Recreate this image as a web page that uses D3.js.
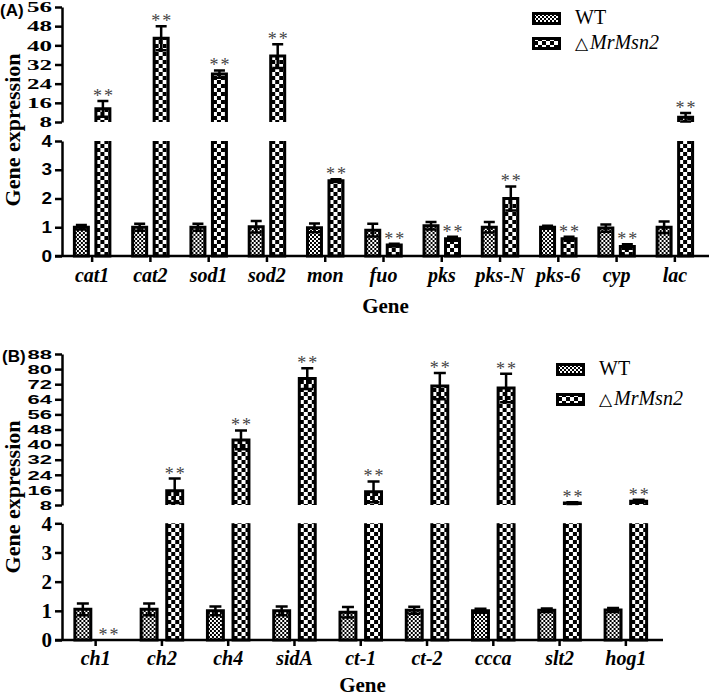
<!doctype html>
<html lang="en">
<head>
<meta charset="utf-8">
<title>Gene expression</title>
<script src="https://cdn.jsdelivr.net/npm/d3@7"></script>
<style>
  body { margin: 0; background: #fff; }
  svg text { fill: #000; }
</style>
</head>
<body>
<div id="chart"></div>
<script>
// panel A
var genesA = ["cat1", "cat2", "sod1", "sod2", "mon", "fuo", "pks", "pks-N", "pks-6", "cyp", "lac"];
var wtA = [1.0, 1.0, 1.0, 1.02, 0.98, 0.9, 1.05, 1.0, 1.0, 0.97, 1.0];
var wtErrA = [0.08, 0.12, 0.12, 0.2, 0.15, 0.22, 0.13, 0.18, 0.05, 0.13, 0.2];
var mutA = [13.5, 43, 28, 35.5, 2.62, 0.38, 0.6, 2.0, 0.6, 0.33, 10];
var mutErrA = [3.3, 5, 1.5, 5, 0.05, 0.05, 0.07, 0.42, 0.07, 0.08, 1.8];
var lowTicks = [0, 1, 2, 3, 4];
var highTicksA = [8, 16, 24, 32, 40, 48, 56];

// panel B
var genesB = ["ch1", "ch2", "ch4", "sidA", "ct-1", "ct-2", "ccca", "slt2", "hog1"];
var wtB = [1.05, 1.05, 1.0, 1.0, 0.95, 1.02, 1.0, 1.02, 1.03];
var wtErrB = [0.2, 0.2, 0.15, 0.15, 0.18, 0.12, 0.07, 0.06, 0.07];
var mutB = [0, 15.5, 42.5, 75, 15, 71, 70, 9, 10];
var mutErrB = [0, 6.5, 5, 5.5, 5.5, 7, 7.5, 0.5, 0.8];
var highTicksB = [8, 16, 24, 32, 40, 48, 56, 64, 72, 80, 88];

var seriesNames = ["WT", "MrMsn2"];

var serif = "Liberation Serif";
var sans = "Liberation Sans";

var svg = d3.select("#chart").append("svg").attr("width", 709).attr("height", 698);
var defs = svg.append("defs");

// fine checker for WT
var p1 = defs.append("pattern").attr("id", "fine")
  .attr("patternUnits", "userSpaceOnUse").attr("width", 4).attr("height", 4);
p1.append("rect").attr("width", 4).attr("height", 4).attr("fill", "#000");
p1.append("rect").attr("width", 2).attr("height", 2).attr("fill", "#fff");
p1.append("rect").attr("x", 2).attr("y", 2).attr("width", 2).attr("height", 2).attr("fill", "#fff");

// coarse checker for the mutant
var p2 = defs.append("pattern").attr("id", "coarse")
  .attr("patternUnits", "userSpaceOnUse").attr("x", 2).attr("width", 8).attr("height", 8);
p2.append("rect").attr("width", 8).attr("height", 8).attr("fill", "#000");
p2.append("rect").attr("width", 4).attr("height", 4).attr("fill", "#fff");
p2.append("rect").attr("x", 4).attr("y", 4).attr("width", 4).attr("height", 4).attr("fill", "#fff");

var sw = 3;

function outline(L, R, yTop, yBot, openTop, openBot) {
  if (openTop) return "M" + L + "," + yTop + "V" + yBot + "H" + R + "V" + yTop;
  if (openBot) return "M" + L + "," + yBot + "V" + yTop + "H" + R + "V" + yBot;
  return "M" + L + "," + yTop + "V" + yBot + "H" + R + "V" + yTop + "Z";
}

function drawPanel(c) {
  var g = svg.append("g");
  var x = d3.scaleBand().domain(c.genes).range(c.xRange)
    .paddingInner(c.pad).paddingOuter(c.pad / 2);
  var x1 = d3.scaleBand().domain(["wt", "mut"]).range([0, x.bandwidth()]);
  var yLo = d3.scaleLinear().domain([0, 4]).range(c.yLo);
  var yHi = d3.scaleLinear().domain([8, c.hiMax]).range(c.yHi);
  var bw = x1.bandwidth() * c.barFrac;

  function yOf(v) { return v <= 4 ? yLo(v) : yHi(v); }

  function seg(bar, yTop, yBot, openTop, openBot, pat) {
    bar.append("rect").attr("x", sw / 2).attr("width", bw - sw)
      .attr("y", yTop).attr("height", yBot - yTop).attr("fill", "url(#" + pat + ")");
    bar.append("path").attr("d", outline(sw / 2, bw - sw / 2, yTop, yBot, openTop, openBot))
      .attr("fill", "none").attr("stroke", "#000").attr("stroke-width", sw);
  }

  function series(key, vals, errs, pat, stars) {
    c.genes.forEach(function(gene, i) {
      var v = vals[i], e = errs[i];
      var bx = x(gene) + x1(key) + (x1.bandwidth() - bw) / 2;
      var bar = g.append("g").attr("transform", "translate(" + bx + ",0)");
      if (v > 0) {
        if (v <= 4) {
          seg(bar, yLo(v), yLo(0), false, false, pat);
        } else {
          seg(bar, yLo(4), yLo(0), true, false, pat);
          seg(bar, yHi(v), yHi(8), false, true, pat);
        }
        if (e > 0) {
          var cx = bw / 2, cw = c.capW / 2;
          var yt = yOf(v + e), yb = yOf(v - e);
          bar.append("path")
            .attr("d", "M" + cx + "," + yt + "V" + yb + "M" + (cx - cw) + "," + yt + "H" + (cx + cw) +
              "M" + (cx - cw) + "," + yb + "H" + (cx + cw))
            .attr("stroke", "#000").attr("stroke-width", 2.5).attr("fill", "none");
        }
      }
      if (stars) {
        bar.append("text").attr("x", bw / 2 + 1).attr("y", yOf(v + e) + 1)
          .attr("text-anchor", "middle").attr("font-family", serif).attr("font-size", 18)
          .attr("letter-spacing", "2px").style("fill", "#444").text("**");
      }
    });
  }

  series("wt", c.wt, c.wtErr, "fine", false);
  series("mut", c.mut, c.mutErr, "coarse", true);

  // x axis
  var xa = g.append("g").attr("transform", "translate(0," + yLo(0) + ")")
    .call(d3.axisBottom(x).tickSize(6).tickSizeOuter(0));
  xa.select(".domain").attr("d", "M" + (c.axisX - 7) + ",0H" + c.xEnd);
  xa.selectAll("text").attr("y", c.catY).attr("dy", null)
    .attr("font-family", serif).attr("font-size", 20)
    .attr("font-weight", "bold").attr("font-style", "italic");

  // y axes, broken
  var fmt = d3.format("d");
  var ya = g.append("g").attr("transform", "translate(" + c.axisX + ",0)")
    .call(d3.axisLeft(yLo).tickValues(lowTicks).tickFormat(fmt).tickSize(7).tickSizeOuter(0).tickPadding(3));
  ya.selectAll("text").attr("font-family", c.loFont).attr("font-size", c.loSize)
    .attr("font-weight", "bold").attr("transform", "scale(1," + c.loScale + ")");
  var yb = g.append("g").attr("transform", "translate(" + c.axisX + ",0)")
    .call(d3.axisLeft(yHi).tickValues(c.hiTicks).tickFormat(fmt).tickSize(7).tickSizeOuter(0).tickPadding(3));
  yb.selectAll("text").attr("font-family", c.hiFont).attr("font-size", c.hiSize)
    .attr("font-weight", "bold").attr("transform", "scale(1," + c.hiScale + ")");

  g.selectAll(".domain, .tick line").attr("stroke", "#000").attr("stroke-width", 2.5);

  // titles
  g.append("text").attr("x", (c.axisX + c.xEnd) / 2).attr("y", c.geneY)
    .attr("text-anchor", "middle").attr("font-family", serif)
    .attr("font-size", 21).attr("font-weight", "bold").text("Gene");
  g.append("text").attr("transform", "translate(20," + c.ylabY + ") rotate(-90)")
    .attr("text-anchor", "middle").attr("font-family", serif)
    .attr("font-size", 22).attr("font-weight", "bold").text("Gene expression");
  g.append("text").attr("x", c.letter[1]).attr("y", c.letter[2])
    .attr("font-family", sans).attr("font-size", 17).attr("font-weight", "bold").text(c.letter[0]);

  // legend
  [["fine", seriesNames[0]], ["coarse", seriesNames[1]]].forEach(function(d, i) {
    var ly = c.legY[i];
    var lg = g.append("g").attr("transform", "translate(" + c.legX + "," + ly + ")");
    lg.append("rect").attr("x", 1.5).attr("y", 1.5).attr("width", 26).attr("height", 10)
      .attr("fill", "url(#" + d[0] + ")").attr("stroke", "#000").attr("stroke-width", 3);
    var t = lg.append("text").attr("x", 43).attr("y", 12).attr("font-family", serif).attr("font-size", 20);
    if (i === 0) {
      t.text(d[1]);
    } else {
      t.append("tspan").attr("font-size", 17).text("\u25b3");
      t.append("tspan").attr("dx", 2).attr("font-style", "italic").text(d[1]);
    }
  });
}

drawPanel({
  genes: genesA, wt: wtA, wtErr: wtErrA, mut: mutA, mutErr: mutErrA,
  xRange: [63, 704], pad: 0.262, barFrac: 0.79, capW: 11,
  yLo: [256, 141], yHi: [122, 7], hiMax: 56, hiTicks: highTicksA,
  axisX: 62, xEnd: 709, catY: 26, geneY: 313, ylabY: 130,
  loFont: sans, loSize: 19, loScale: 0.85,
  hiFont: serif, hiSize: 25, hiScale: 0.6,
  letter: ["(A)", 0, 16], legX: 532, legY: [12, 37]
});

drawPanel({
  genes: genesB, wt: wtB, wtErr: wtErrB, mut: mutB, mutErr: mutErrB,
  xRange: [62.5, 659], pad: 0.228, barFrac: 0.74, capW: 12,
  yLo: [640, 523.3], yHi: [505, 354], hiMax: 88, hiTicks: highTicksB,
  axisX: 62, xEnd: 663, catY: 25, geneY: 692, ylabY: 497,
  loFont: serif, loSize: 21, loScale: 1,
  hiFont: sans, hiSize: 22, hiScale: 0.6,
  letter: ["(B)", 2, 362], legX: 556, legY: [363, 393]
});
</script>
</body>
</html>
